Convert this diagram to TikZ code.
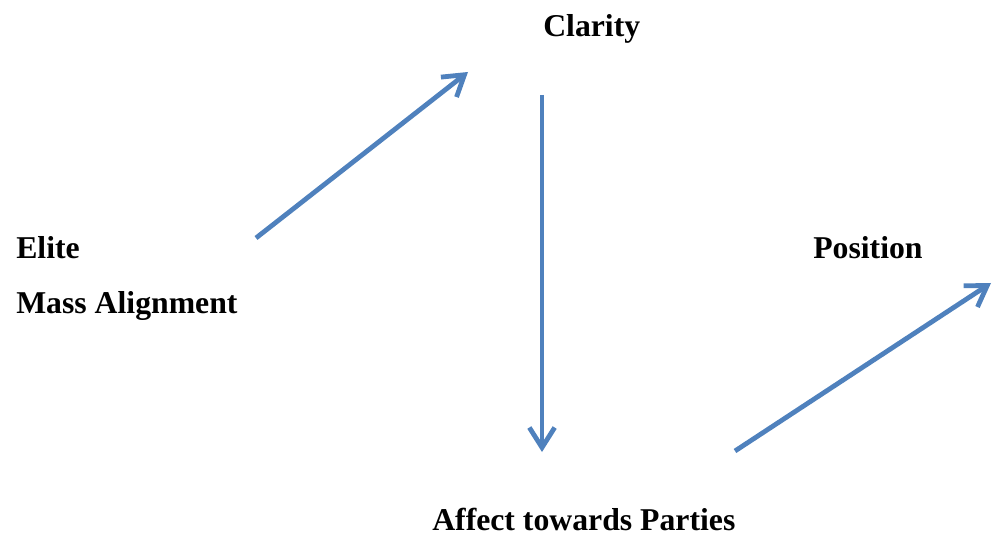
\documentclass[tikz,border=0pt]{standalone}
\usepackage{fontspec}
\setmainfont{Liberation Serif}
\usepackage{tikz}
\usetikzlibrary{arrows.meta, positioning}
\definecolor{flowblue}{HTML}{4F81BD}
\tikzstyle{label}  = [anchor=base west, inner sep=0pt, font=\fontsize{23.8}{28}\selectfont\bfseries]
\tikzstyle{arrow}  = [-{Straight Barb[length=15pt, width=19pt, line width=3.6pt]},
                      line width=3.6pt, color=flowblue]

\begin{document}
\begin{tikzpicture}[x=0.75pt, y=-0.75pt]
  \useasboundingbox (0,0) rectangle (992,538);

  %% ── Labels ──
  \node[label] (clarity)  at (543,37)  {Clarity};
  \node[label] (elite)    at (16,258)  {Elite};
  \node[label] (mass)     at (16,313)  {Mass Alignment};
  \node[label] (position) at (813,258) {Position};
  \node[label] (affect)   at (432,530) {Affect towards Parties};

  %% ── Arrow ends ──
  \coordinate (a1s) at (256,238);
  \coordinate (a1e) at (468,72);
  \coordinate (a2s) at (542,95);
  \coordinate (a2e) at (542,452);
  \coordinate (a3s) at (735,451);
  \coordinate (a3e) at (991,283);

  %% ── Arrows ──
  \draw[arrow] (a1s) -- (a1e);
  \draw[arrow] (a2s) -- (a2e);
  \draw[arrow] (a3s) -- (a3e);

\end{tikzpicture}
\end{document}
